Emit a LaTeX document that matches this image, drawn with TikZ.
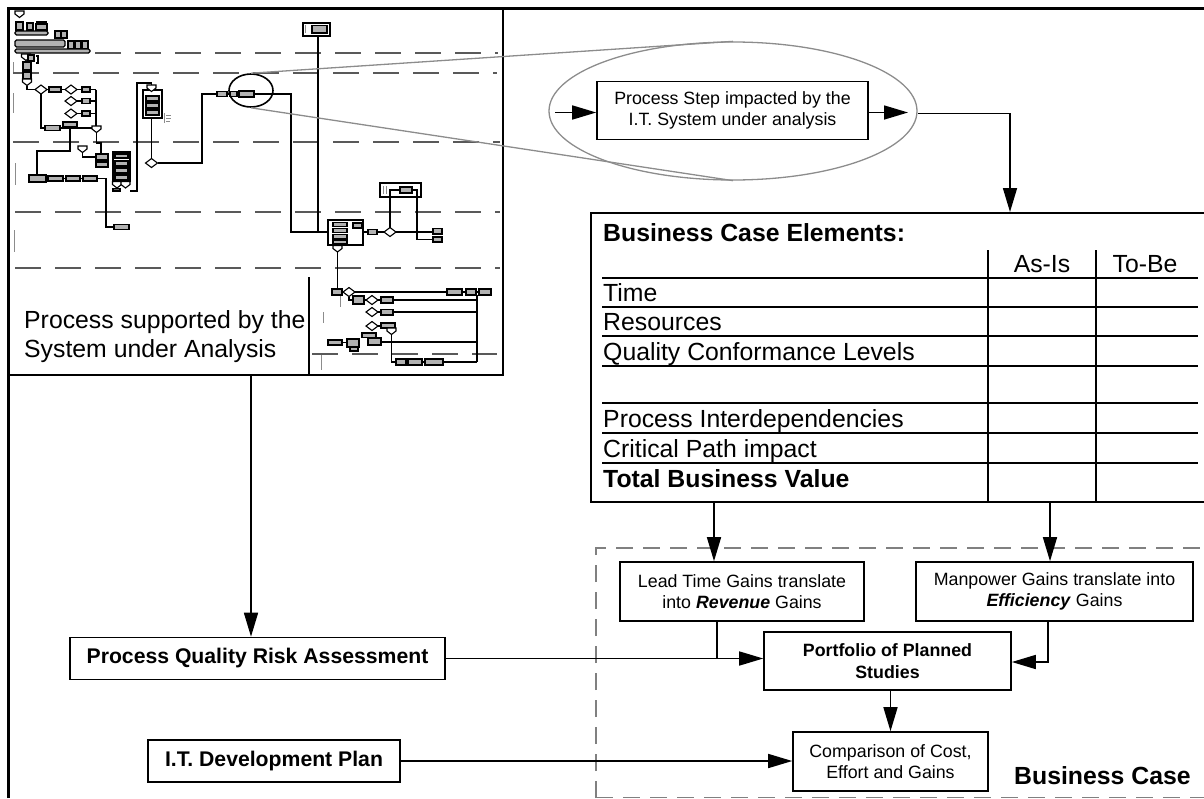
\documentclass[tikz,border=0pt]{standalone}
\usepackage{fontspec}
\setmainfont{Liberation Sans}
\usetikzlibrary{arrows.meta,shapes.geometric}
\newcommand\fsm{\fontsize{17.8}{21.5}\selectfont}
\newcommand\fbg{\fontsize{24.8}{29}\selectfont}
\newcommand\fmd{\fontsize{21.2}{25}\selectfont}
\newcommand\mnb[4]{\draw[mini,fill=black!30] (#1,#2) rectangle (#3,#4);}
\newcommand\mnd[2]{\draw[mini,fill=white] (#1-6,#2) -- (#1,#2-4.5) -- (#1+6,#2) -- (#1,#2+4.5) -- cycle;}
\newcommand\mnp[2]{\draw[mini,fill=white] (#1-4.5,#2-3) -- (#1+4.5,#2-3) -- (#1+4.5,#2) -- (#1,#2+3.5) -- (#1-4.5,#2) -- cycle;}
\begin{document}
\begin{tikzpicture}[x=1pt,y=-1pt,
  outerf/.style={line width=3},
  lane/.style={draw=black!65, line width=1.3, dash pattern=on 26pt off 14pt},
  mini/.style={draw=black, line width=1.1},
  mline/.style={draw=black, line width=1.3},
  tinyt/.style={draw=black!45, line width=1.0},
  zoomline/.style={draw=black!45, line width=1.3},
  bx/.style={draw, line width=1.6, fill=white, align=center, inner sep=0pt, font=\fsm},
  arr/.style={line width=1.6, -{Triangle[length=24pt,width=14pt]}},
  conn/.style={line width=1.6},
  tline/.style={line width=1.8},
  ttext/.style={anchor=base west, inner sep=0pt, font=\fbg},
  bcregion/.style={draw=black!50, line width=1.4, dash pattern=on 17pt off 10pt}]
\useasboundingbox (0,0) rectangle (1204,798);

% ---------- miniature process diagram ----------
\draw[lane] (95,53) -- (498,53);
\draw[lane] (13,73) -- (497,73);
\draw[lane] (13,142) -- (500,142);
\draw[lane] (15,212) -- (500,212);
\draw[lane] (15,268) -- (500,268);
\draw[lane] (312,354) -- (497,354);
\draw[mline] (309,277) -- (309,375);
\draw[tinyt] (13,62) -- (13,72);
\draw[tinyt] (13,93) -- (13,113);
\draw[tinyt] (15,163) -- (15,185);
\draw[tinyt] (14,230) -- (14,252);
\draw[tinyt] (323,312) -- (323,323);
\draw[tinyt] (321,355) -- (321,370);

% top-left cluster
\mnp{19.5}{14}
\mnb{16}{22}{23}{30}
\mnb{27}{23}{33}{30}
\mnb{36}{24}{47}{30}
\draw[mini] (36,22) -- (47,22);
\draw[mini,fill=black!30,rounded corners=1.5] (15,31) rectangle (48,35);
\mnb{55}{31}{60.5}{38}
\mnb{61.5}{31}{67}{38}
\draw[mini,fill=black!30,rounded corners=1.5] (15,40) rectangle (65,47);
\mnb{68}{41}{74}{49}
\mnb{75}{41}{81}{49}
\mnb{82}{41}{88}{49}
\draw[mini,fill=black!30,rounded corners=1.5] (15,49) rectangle (90,53);
\mnp{26}{57}
\mnb{28}{55}{34}{61}
\draw[mini] (36,56) -- (38,56) -- (38,63) -- (36,63);
\mnb{23}{62}{31}{70}
\mnb{23}{72}{31}{79}
\mnp{27}{82}
\draw[mline] (27,85.5) -- (27,89.5) -- (35,89.5);

% middle lane left
\mnd{41}{89.5}
\draw[mline] (47,89.5) -- (49,89.5);
\mnb{49}{87}{61}{92}
\draw[mline] (61,89.5) -- (65,89.5);
\mnd{71}{89.5}
\draw[mline] (77,89.5) -- (82,89.5);
\mnb{82}{87}{90}{92}
\mnd{71}{101}
\draw[mline] (77,101) -- (82,101);
\mnb{82}{98.5}{90}{103.5}
\mnd{71}{113.5}
\draw[mline] (77,113.5) -- (82,113.5);
\mnb{82}{111}{90}{116}
\draw[mline] (90,89.5) -- (96,89.5) (90,101) -- (96,101) (90,113.5) -- (96,113.5) (96,89.5) -- (96,126);
\draw[mline] (41,94) -- (41,128) -- (45,128);
\mnb{45}{125.5}{60}{130.5}
\draw[mline] (60,128) -- (92,128);
\mnb{63}{122}{77}{127}
\mnp{96.5}{129}
\draw[mline] (70,127) -- (70,151) -- (37,151) -- (37,175);
\draw[mline] (96.5,132.5) -- (96.5,143) -- (101,143) -- (101,154);
\mnp{82.5}{149}
\draw[mline] (82.5,152.5) -- (82.5,157) -- (96,157);
\mnb{96}{154}{108}{160}
\mnb{96}{162}{108}{167}
\draw[mini,fill=white] (113,152) rectangle (130,181);
\mnb{115}{154}{128}{158}
\mnb{115}{161}{128}{166}
\mnb{115}{168}{128}{173}
\mnb{115}{175}{128}{180}
\mnp{117}{184.5}
\mnp{125.5}{184.5}
\draw[mini,fill=black!60] (113,188.5) rectangle (120,191);
\mnb{29}{175}{46}{182}
\mnb{48}{176}{63}{181}
\mnb{66}{176}{80}{181}
\mnb{83}{176}{97}{181}
\draw[mline] (46,178.5) -- (48,178.5) (63,178.5) -- (66,178.5) (80,178.5) -- (83,178.5);
\draw[mline] (97,178.5) -- (106,178.5) -- (106,227) -- (114,227);
\mnb{114}{224.5}{129}{229.5}

% middle column
\draw[mini,fill=white] (143,90) rectangle (162,118);
\mnb{146}{96}{159}{101}
\mnb{146}{103}{159}{108}
\mnb{146}{110}{159}{115}
\mnp{151.5}{88}
\draw[mline] (151.5,85) -- (151.5,83) -- (137,83) -- (137,191) -- (130,191);
\draw[tinyt] (164,113) -- (164,123) (166,115) -- (171,115) (166,118) -- (171,118) (166,121) -- (170,121);
\draw[mline] (151.5,118) -- (151.5,158.5);
\mnd{151.5}{163}
\draw[mline] (157.5,163) -- (202,163) -- (202,94) -- (217,94);
\mnb{217}{91.5}{227}{96.5}
\mnb{230}{91.5}{237}{96.5}
\mnb{239}{91}{254}{97}
\draw[mline] (227,94) -- (230,94) (237,94) -- (239,94);
\draw[mline] (254,94) -- (291,94) -- (291,232) -- (328,232);
\draw[mini,fill=white] (303,23) rectangle (330,36);
\draw[tinyt] (305,25) -- (305,33);
\mnb{312}{25.5}{327}{33}
\draw[mline] (318,36) -- (318,232);

% right part
\draw[mini,fill=white] (328,220) rectangle (363,245);
\mnb{333}{222.5}{347}{226.5}
\mnb{333}{228.5}{347}{232.5}
\mnb{333}{234.5}{347}{238.5}
\mnb{333}{240}{347}{243.5}
\mnb{353}{223}{362}{228}
\draw[mline] (363,232) -- (368,232);
\mnb{368}{229.5}{377}{234.5}
\draw[mline] (377,232) -- (384,232);
\mnd{390}{232}
\draw[mline] (396,232) -- (433,232);
\mnb{433}{228.5}{442}{234}
\mnb{433}{237}{442}{242}
\draw[mini,fill=white] (380,183) rectangle (421,197);
\draw[tinyt] (383,186) -- (383,194) (386,186) -- (386,194);
\mnb{400}{187}{412}{193}
\draw[mline] (400,190) -- (390,190) -- (390,227.5);
\draw[mline] (412,190) -- (417,190) -- (417,239.5) -- (433,239.5);
\mnp{337.5}{248.5}
\draw[mline] (337.5,252) -- (337.5,289);
\mnb{332}{289}{342}{295}
\draw[tinyt] (340,296) -- (340,307);
\mnd{349}{292}
\draw[mline] (355,292) -- (447,292);
\mnb{447}{289}{462}{295}
\mnb{466}{289}{476}{295}
\mnb{479}{289}{491}{295}
\draw[mline] (462,292) -- (466,292) (476,292) -- (479,292);
\draw[mline] (477,295) -- (477,362);
\draw[mline] (349,296.5) -- (349,300) -- (353,300);
\mnb{353}{296}{364}{304}
\draw[mline] (364,300) -- (366,300);
\mnd{372}{300}
\draw[mline] (378,300) -- (381,300);
\mnb{381}{297}{393}{303}
\draw[mline] (393,300) -- (477,300);
\mnd{372}{312}
\mnb{381}{309.5}{393}{315}
\draw[mline] (378,312) -- (381,312) (393,312) -- (477,312);
\mnd{372}{326}
\mnb{381}{323}{395}{328}
\draw[mline] (378,326) -- (381,326);
\mnp{391.5}{331}
\mnb{362}{333}{376}{337.5}
\mnb{368}{338}{381}{345}
\draw[mline] (381,342) -- (477,342);
\mnb{328}{340}{342}{345}
\draw[mline] (342,342.5) -- (347,342.5);
\mnb{347}{339}{359}{347}
\mnb{350}{347}{358}{351}
\draw[mline] (391.5,334.5) -- (391.5,362) -- (396,362);
\mnb{396}{359}{406}{365}
\mnb{408}{359}{422}{365}
\mnb{425}{359}{443}{365}
\draw[mline] (406,362) -- (408,362) (422,362) -- (425,362) (443,362) -- (477,362);

% ---------- frames ----------
\draw[line width=2.5] (8,375) -- (503,375) -- (503,8);
\draw[outerf] (8,798) -- (8,8) -- (1204,8);
\node[ttext] (pst1) at (24,328) {Process supported by the};
\node[ttext] (pst2) at (24,357) {System under Analysis};

% ---------- zoom ellipse ----------
\node[ellipse, draw, line width=1.6, minimum width=44pt, minimum height=33pt, inner sep=0pt] (smell) at (251,90.5) {};
\node[ellipse, draw=black!45, line width=1.3, minimum width=368pt, minimum height=138pt, inner sep=0pt] (bigell) at (733,111) {};
\draw[zoomline] (smell.north) -- (bigell.north);
\draw[zoomline] (smell.south) -- (bigell.south);
\node[bx, minimum width=271pt, minimum height=58pt] (stepb) at (732.5,110.5) {Process Step impacted by the\\I.T. System under analysis};
\coordinate (inA) at (555,112.5);
\coordinate (outA) at (908,112.5);
\coordinate (oE) at (918,113.5);
\draw[arr] (inA) -- (inA -| stepb.west);
\draw[arr] (outA -| stepb.east) -- (outA);

% ---------- table ----------
\node[draw, line width=1.8, minimum width=620pt, minimum height=289pt, anchor=north west, inner sep=0pt] (tbl) at (590,212) {};
\coordinate (tarr) at (1010,212);
\draw[arr] (oE) -| (tarr);
\node[ttext, font=\fbg\bfseries] (bce) at (603,241) {Business Case Elements:};
\node[anchor=base, inner sep=0pt, font=\fbg] (asis) at (1042,272) {As-Is};
\node[anchor=base, inner sep=0pt, font=\fbg] (tobe) at (1145,272) {To-Be};
\draw[tline] (988,250) -- (988,501) (1096,250) -- (1096,501);
\foreach \yy in {278,307,336,366,403,433,463} \draw[tline] (602,\yy) -- (1198,\yy);
\node[ttext] (r1) at (603,301) {Time};
\node[ttext] (r2) at (603,330) {Resources};
\node[ttext] (r3) at (603,360) {Quality Conformance Levels};
\node[ttext] (r4) at (603,427) {Process Interdependencies};
\node[ttext] (r5) at (603,457) {Critical Path impact};
\node[ttext, font=\fbg\bfseries] (r6) at (603,487) {Total Business Value};

% ---------- business case region ----------
\draw[bcregion] (596,798) -- (596,548) -- (1210,548);
\draw[bcregion] (596,797.5) -- (1210,797.5);
\node[bx, minimum width=244pt, minimum height=59pt] (lead) at (742,591.5) {Lead Time Gains translate\\into \textbf{\textit{Revenue}} Gains};
\node[bx, minimum width=277pt, minimum height=59pt] (man) at (1054.5,591.5) {Manpower Gains translate into\\\textbf{\textit{Efficiency}} Gains};
\node[bx, font=\fsm\bfseries, minimum width=247pt, minimum height=58pt] (port) at (887.5,661) {Portfolio of Planned\\Studies};
\node[bx, minimum width=195pt, minimum height=59pt] (comp) at (890.5,761.5) {Comparison of Cost,\\Effort and Gains};
\node[anchor=base west, inner sep=0pt, font=\fbg\bfseries] (bclabel) at (1014,784) {Business Case};

% ---------- left boxes ----------
\node[bx, font=\fmd\bfseries, minimum width=375pt, minimum height=42pt] (pqra) at (257.5,658.5) {Process Quality Risk Assessment};
\node[bx, font=\fmd\bfseries, minimum width=252pt, minimum height=42pt] (itd) at (274,761) {I.T. Development Plan};

% ---------- connectors ----------
\coordinate (procbot) at (251,375);
\draw[arr] (procbot) -- (procbot |- pqra.north);
\coordinate (la) at (714,501);
\coordinate (ma) at (1050,501);
\draw[arr] (la) -- (la |- lead.north);
\draw[arr] (ma) -- (ma |- man.north);
\coordinate (lj) at (717,658.5);
\draw[conn] (lead.south -| lj) -- (lj);
\draw[arr] (pqra.east) -- (pqra.east -| port.west);
\coordinate (mj) at (1048,662);
\draw[arr] (man.south -| mj) -- (mj) -- (mj -| port.east);
\draw[arr] (port.south -| comp.north) -- (comp.north);
\draw[arr] (itd.east) -- (itd.east -| comp.west);
\end{tikzpicture}
\end{document}
